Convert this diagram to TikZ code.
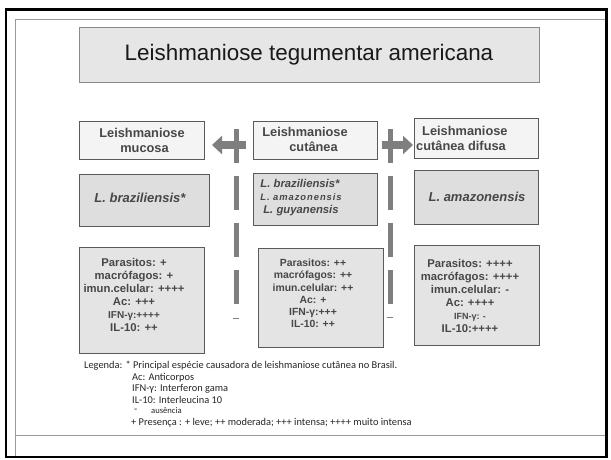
\documentclass[tikz,border=0pt]{standalone}
\usepackage{fontspec}
\setmainfont{Liberation Sans}
\newfontfamily\legfont{Carlito}
\usetikzlibrary{arrows.meta}
\definecolor{frameline}{HTML}{9A9A9A}
\definecolor{boxline}{HTML}{5A5A5A}
\definecolor{titlefill}{HTML}{E6E6E6}
\definecolor{titleline}{HTML}{8A8A8A}
\definecolor{lightfill}{HTML}{F4F4F4}
\definecolor{midfill}{HTML}{DEDEDE}
\definecolor{lowfill}{HTML}{E4E4E4}
\definecolor{dashgray}{HTML}{7F7F7F}
\definecolor{boxtext}{HTML}{474747}
\definecolor{legtext}{HTML}{262626}
\tikzset{
  panel/.style={draw=boxline, line width=0.9pt, inner sep=0pt},
  toprow/.style={panel, fill=lightfill},
  speciesrow/.style={panel, fill=midfill},
  datarow/.style={panel, fill=lowfill},
  lbl/.style={inner sep=0pt, align=center, text=boxtext},
  headtxt/.style={lbl, font=\fontsize{12.8}{15}\selectfont\bfseries},
  sptxt/.style={lbl, font=\fontsize{13}{15}\selectfont\bfseries\itshape},
  datatxt/.style={lbl, font=\fontsize{11.3}{12.9}\selectfont\bfseries},
  legtxt/.style={inner sep=0pt, anchor=west, text=legtext, font=\legfont\fontsize{10.4}{12}\selectfont},
  divider/.style={draw=dashgray, line width=5pt, dash pattern=on 34pt off 13pt},
  smalldash/.style={draw=dashgray, line width=0.8pt},
  blockarrow/.style={draw=dashgray, line width=8pt, -{Triangle[length=10pt,width=18pt]}}
}
\begin{document}
\begin{tikzpicture}[x=1pt,y=-1pt]
\useasboundingbox (0,0) rectangle (611,459);
\fill[white] (0,0) rectangle (611,459);
% frames
\draw[frameline, line width=0.9pt] (15,19) rectangle (605,456);
\draw[frameline, line width=0.9pt] (15,435) -- (605,435);
\draw[black, line width=2.2pt] (6,9.5) rectangle (606.5,457);

% title
\node[draw=titleline, fill=titlefill, line width=0.9pt, minimum width=460pt, minimum height=55pt, inner sep=0pt,
      font=\fontsize{22.4}{26}\selectfont, text=black!90] (title) at (309,54.5) {Leishmaniose tegumentar americana};

% row 1
\node[toprow, minimum width=125pt, minimum height=38pt] (b11) at (141.5,140) {};
\node[toprow, minimum width=124pt, minimum height=38pt] (b12) at (315,140) {};
\node[toprow, minimum width=124pt, minimum height=40pt] (b13) at (476,138) {};
\node[headtxt] (t11) at (142,140) {Leishmaniose\\\hspace*{5pt}mucosa};
\node[headtxt] (t12) at (305,139.5) {Leishmaniose\\\hspace*{17pt}cutânea};
\node[headtxt, align=left, anchor=west] (t13) at (416,138.5) {\hspace*{6pt}Leishmaniose\\cutânea difusa};

% row 2
\node[speciesrow, minimum width=130pt, minimum height=52pt] (b21) at (144,200) {};
\node[speciesrow, minimum width=124pt, minimum height=52pt] (b22) at (315,199) {};
\node[speciesrow, minimum width=124pt, minimum height=54pt] (b23) at (476,197) {};
\node[sptxt] (t21) at (140,198) {L. braziliensis*};
\node[lbl, font=\fontsize{11.3}{13}\selectfont\bfseries\itshape] (t22a) at (300,183.5) {L. braziliensis*};
\node[lbl, font=\fontsize{9.4}{10}\selectfont\bfseries\itshape\addfontfeature{LetterSpace=10}] (t22b) at (301,197) {L. amazonensis};
\node[lbl, font=\fontsize{11.3}{13}\selectfont\bfseries\itshape] (t22c) at (301,210.5) {L. guyanensis};
\node[sptxt] (t23) at (477,197) {L. amazonensis};

% row 3
\node[datarow, minimum width=125pt, minimum height=106pt] (b31) at (141.5,300) {};
\node[datarow, minimum width=125pt, minimum height=99pt] (b32) at (320.5,297.5) {};
\node[datarow, minimum width=125pt, minimum height=100pt] (b33) at (476.5,295) {};
\node[datatxt] (t31) at (134,295) {Parasitos: +\\macrófagos: +\\imun.celular: ++++\\Ac: +++\\{\fontsize{10}{12.9}\selectfont IFN-γ:++++}\\IL-10: ++};
\node[datatxt, font=\fontsize{10.4}{12.2}\selectfont\bfseries] (t32) at (313,293.5) {Parasitos: ++\\macrófagos: ++\\imun.celular: ++\\Ac: +\\IFN-γ:+++\\IL-10: ++};
\node[datatxt] (t33) at (470,296) {Parasitos: ++++\\macrófagos: ++++\\imun.celular: -\\Ac: ++++\\{\fontsize{9}{12.9}\selectfont IFN-γ: -}\\IL-10:++++};

% dividers
\coordinate (d1top) at (236,129);
\coordinate (d1bot) at (236,305);
\coordinate (d2top) at (390,129);
\coordinate (d2bot) at (390,305);
\draw[divider] (d1top) -- (d1bot);
\draw[divider] (d2top) -- (d2bot);
\coordinate (s1a) at (233,318);
\coordinate (s1b) at (239,318);
\coordinate (s2a) at (387,317);
\coordinate (s2b) at (393,317);
\draw[smalldash] (s1a) -- (s1b);
\draw[smalldash] (s2a) -- (s2b);

% arrows
\coordinate (la1) at (246,145);
\coordinate (la2) at (212,145);
\coordinate (ra1) at (382,145);
\coordinate (ra2) at (413,145);
\draw[blockarrow] (la1) -- (la2);
\draw[blockarrow] (ra1) -- (ra2);

% legend
\node[legtxt] (l1) at (84,366) {Legenda: * Principal espécie causadora de leishmaniose cutânea no Brasil.};
\node[legtxt] (l2) at (132,377.5) {Ac: Anticorpos};
\node[legtxt] (l3) at (132,389) {IFN-γ: Interferon gama};
\node[legtxt] (l4) at (132,400) {IL-10: Interleucina 10};
\node[legtxt] (l5a) at (134,411) {-};
\node[legtxt, font=\legfont\fontsize{8.6}{10}\selectfont] (l5b) at (151,411) {ausência};
\node[legtxt] (l6) at (131,423) {+ Presença : + leve; ++ moderada; +++ intensa; ++++ muito intensa};
\end{tikzpicture}
\end{document}
